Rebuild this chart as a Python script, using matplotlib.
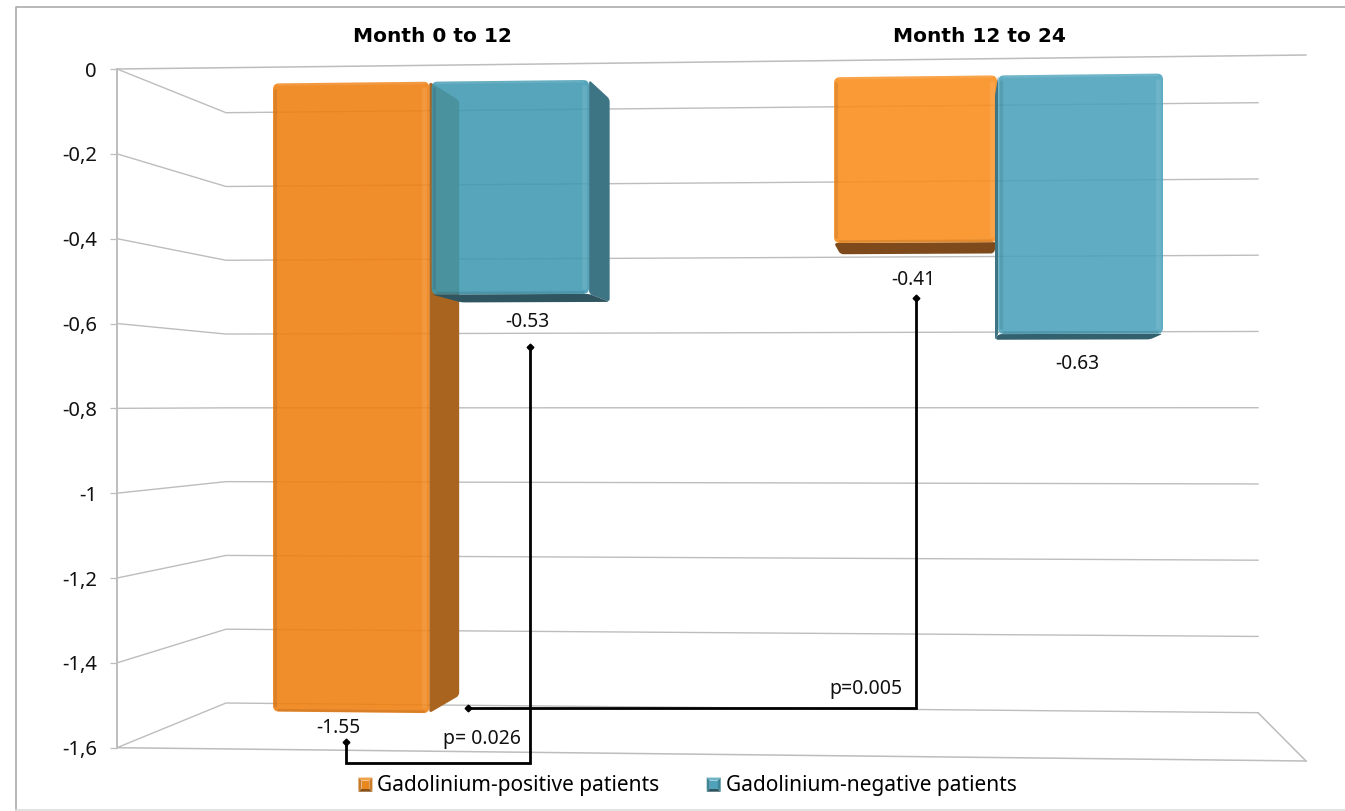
import matplotlib
matplotlib.use("Agg")
import numpy as np
import matplotlib.pyplot as plt
from matplotlib.patches import Polygon, Patch, PathPatch
from matplotlib.path import Path
from matplotlib.ticker import FuncFormatter

# values shown on the chart
groups = ["Month 0 to 12", "Month 12 to 24"]
series = ["Gadolinium-positive patients", "Gadolinium-negative patients"]
positive = [-1.55, -0.41]
negative = [-0.53, -0.63]
y_ticks = [0, -0.2, -0.4, -0.6, -0.8, -1, -1.2, -1.4, -1.6]
p_values = ["p= 0.026", "p=0.005"]

W, H = 1345, 811
GRID = "#BDBDBD"
FONT = ["Noto Sans", "DejaVu Sans"]

# pixel geometry of the 3D box
Y0, PX_PER_UNIT = 69.0, (747.7 - 69.0) / 1.6
DEPTH_FRONT, DEPTH_BACK = 0.36, 0.78
ALPHA_FRONT = 0.88


def to_axis(py):
    # pixel row -> value on the front-left axis
    return -(py - Y0) / PX_PER_UNIT


def project(t, v, d, lift=0.0):
    # t along the floor, v the value, d depth (0 front, 1 back); returns axes coords
    u = -v / 1.6
    x_f = 117 + 1189 * t
    x_b = 226 + 1032 * t
    y_f = (69 - 14 * t) * (1 - u) + (747.7 + 13.3 * t) * u
    y_b = (112.7 - 10 * t) * (1 - u) + (703 + 9.7 * t) * u
    return x_f + (x_b - x_f) * d, to_axis(y_f + (y_b - y_f) * d - lift)


def rounded(pts, r):
    # closed path through pts with the corners cut by quadratic curves, r in pixels
    p = np.array([(x, -y * PX_PER_UNIT) for x, y in pts])
    verts, codes = [], []
    n = len(p)
    for i in range(n):
        prev_pt, cur, next_pt = p[i - 1], p[i], p[(i + 1) % n]
        d1 = prev_pt - cur
        d2 = next_pt - cur
        r1 = min(r, np.linalg.norm(d1) / 2)
        r2 = min(r, np.linalg.norm(d2) / 2)
        a = cur + d1 / max(np.linalg.norm(d1), 1e-6) * r1
        b = cur + d2 / max(np.linalg.norm(d2), 1e-6) * r2
        verts.append(a)
        codes.append(Path.MOVETO if i == 0 else Path.LINETO)
        verts += [cur, b]
        codes += [Path.CURVE3, Path.CURVE3]
    verts.append(verts[0])
    codes.append(Path.CLOSEPOLY)
    verts = np.array(verts)
    verts[:, 1] = -verts[:, 1] / PX_PER_UNIT
    return Path(verts, codes)


def draw_face(ax, pts, color, zorder, r=3.0, alpha=None):
    ax.add_patch(PathPatch(rounded(pts, r), fc=color, ec="none", alpha=alpha, zorder=zorder))


def draw_bar(ax, t0, t1, value, front, zorder, side=None, bottom=None, left_side=None):
    f, b = DEPTH_FRONT, DEPTH_BACK
    # the rounded lower edge sits a little inside the nominal box
    lf = 4.7 + 2.4 * value
    lb = lf / 2
    if side is not None:
        draw_face(ax, [project(t1, 0, f), project(t1, 0, b), project(t1, value, b, lb), project(t1, value, f, lf)],
                  side, zorder)
    if left_side is not None:
        draw_face(ax, [project(t0, 0, f), project(t0, 0, b), project(t0, value, b, lb), project(t0, value, f, lf)],
                  left_side, zorder, r=1.5)
    if bottom is not None:
        draw_face(ax, [project(t0, value, f, lf), project(t1, value, f, lf), project(t1, value, b, lb),
                       project(t0, value, b, lb)], bottom, zorder)
    corners = [project(t0, 0, f), project(t1, 0, f), project(t1, value, f, lf), project(t0, value, f, lf)]
    draw_face(ax, corners, front, zorder + 0.1, r=6.0, alpha=ALPHA_FRONT)

    # bevel: light right and top edges, dark left and bottom edges
    inset = 0.0045
    zb = zorder + 0.2
    for (ta, tb, va, vb, col, al, lw) in [
        (t1 - inset, t1 - inset, 0, value, "white", 0.09, 3.4),
        (t0 + 0.002, t0 + 0.002, 0, value, "black", 0.09, 2.2),
    ]:
        p, q = project(ta, va, f, 0 if va == 0 else lf), project(tb, vb, f, 0 if vb == 0 else lf)
        ax.plot([p[0], q[0]], [p[1] - 0.012, q[1] + 0.012], color=col, alpha=al, lw=lw, zorder=zb,
                solid_capstyle="butt")
    p, q = project(t0 + 0.004, 0, f, -1.2), project(t1 - 0.004, 0, f, -1.2)
    ax.plot([p[0], q[0]], [p[1], q[1]], color="white", alpha=0.10, lw=1.8, zorder=zb, solid_capstyle="butt")
    p, q = project(t0 + 0.004, value, f, lf + 1.5), project(t1 - 0.004, value, f, lf + 1.5)
    ax.plot([p[0], q[0]], [p[1], q[1]], color="black", alpha=0.10, lw=1.8, zorder=zb, solid_capstyle="butt")


def connector(ax, pts):
    xs = [p[0] for p in pts]
    ys = [to_axis(p[1]) for p in pts]
    ax.plot(xs, ys, color="black", lw=2.0, zorder=8, solid_joinstyle="miter")
    ax.plot([xs[0], xs[-1]], [ys[0], ys[-1]], ls="", marker="D", ms=3.4, color="black", zorder=8)


class BevelSquare:
    # legend key drawn as a small bevelled tile
    def __init__(self, mid, top, side, low):
        self.mid, self.top, self.side, self.low = mid, top, side, low

    def legend_artist(self, legend, orig_handle, fontsize, handlebox):
        x0, y0 = handlebox.xdescent, handlebox.ydescent
        w, h = handlebox.width, handlebox.height
        i = w * 0.22
        tr = handlebox.get_transform()
        faces = [
            ([(x0, y0 + h), (x0 + w, y0 + h), (x0 + w - i, y0 + h - i), (x0 + i, y0 + h - i)], self.top),
            ([(x0, y0), (x0 + w, y0), (x0 + w - i, y0 + i), (x0 + i, y0 + i)], self.low),
            ([(x0, y0), (x0, y0 + h), (x0 + i, y0 + h - i), (x0 + i, y0 + i)], self.side),
            ([(x0 + w, y0), (x0 + w, y0 + h), (x0 + w - i, y0 + h - i), (x0 + w - i, y0 + i)], self.side),
            ([(x0 + i, y0 + i), (x0 + w - i, y0 + i), (x0 + w - i, y0 + h - i), (x0 + i, y0 + h - i)], self.mid),
        ]
        out = None
        for pts, col in faces:
            out = Polygon(pts, closed=True, fc=col, ec="none", transform=tr)
            handlebox.add_artist(out)
        return out


plt.rcParams["font.family"] = FONT
fig = plt.figure(figsize=(W / 100, H / 100), dpi=100)
ax = fig.add_axes([0, 0, 1, 1])
ax.set_xlim(0, W)
ax.set_ylim(to_axis(H), to_axis(0))
ax.patch.set_alpha(0)

for s in ["top", "bottom", "right"]:
    ax.spines[s].set_visible(False)
ax.spines["left"].set_position(("data", 117))
ax.spines["left"].set_bounds(-1.6, 0)
ax.spines["left"].set_color(GRID)
ax.spines["left"].set_linewidth(1.4)
ax.xaxis.set_visible(False)
ax.set_yticks(y_ticks)
ax.yaxis.set_major_formatter(FuncFormatter(lambda v, _: f"{v:g}".replace(".", ",")))
ax.tick_params(axis="y", length=5, width=0.9, color=GRID, labelsize=14.5, pad=9.4, labelcolor="#111111")

# outer frame of the chart area
ax.plot([16, 16, W], [to_axis(H), to_axis(7), to_axis(7)], color="#ABABAB", lw=1.2, zorder=0)
ax.plot([16, W], [to_axis(810), to_axis(810)], color="#DDDDDD", lw=1.2, zorder=0)

# walls and floor
for v in y_ticks:
    p_left = project(0, v, 0)
    p_back_l = project(0, v, 1)
    p_back_r = project(1, v, 1)
    ax.plot([p_left[0], p_back_l[0], p_back_r[0]], [p_left[1], p_back_l[1], p_back_r[1]],
            color=GRID, lw=1.0, zorder=1)
for v in [0, -1.6]:
    a = project(0, v, 0)
    c = project(1, v, 0)
    ax.plot([a[0], c[0]], [a[1], c[1]], color=GRID, lw=1.1, zorder=1)
a = project(1, -1.6, 1)
c = project(1, -1.6, 0)
ax.plot([a[0], c[0]], [a[1], c[1]], color=GRID, lw=1.1, zorder=1)

# bars
draw_bar(ax, 0.1031, 0.2411, positive[0], "#F07E0E", 2, side="#A9651F")
draw_bar(ax, 0.2432, 0.3822, negative[0], "#3E99B2", 3, side="#3E7585", bottom="#2E5560")
draw_bar(ax, 0.5985, 0.7424, positive[1], "#FA8C1A", 2, bottom="#7E4A1B")
draw_bar(ax, 0.7435, 0.8890, negative[1], "#4AA2BB", 3, bottom="#32606D", left_side="#3E7585")

# value labels below the bars
label_pos = [(338, 728), (527, 322), (913, 280), (1077, 364)]
label_vals = [positive[0], negative[0], positive[1], negative[1]]
for (x, y), v in zip(label_pos, label_vals):
    ax.text(x, to_axis(y), f"{v:.2f}", ha="center", va="center", fontsize=13.8, color="#111111", zorder=9)

# group headers
ax.text(432, to_axis(36), groups[0], ha="center", va="center", fontsize=14.5, fontweight="bold",
        family="DejaVu Sans")
ax.text(979, to_axis(36), groups[1], ha="center", va="center", fontsize=14.5, fontweight="bold",
        family="DejaVu Sans")

# significance brackets
connector(ax, [(346, 742), (346, 763), (530, 763), (530, 347)])
connector(ax, [(468, 708), (916, 708), (916, 298)])
ax.text(482, to_axis(739), p_values[0], ha="center", va="center", fontsize=14, color="#111111", zorder=9)
ax.text(866, to_axis(689), p_values[1], ha="center", va="center", fontsize=14, color="#111111", zorder=9)

handles = [Patch(label=series[0]), Patch(label=series[1])]
hmap = {
    handles[0]: BevelSquare("#E8871E", "#EFA24B", "#C87A28", "#8A5218"),
    handles[1]: BevelSquare("#4FA2B9", "#6FB5C8", "#3E8597", "#2E5560"),
}
ax.legend(handles=handles, handler_map=hmap, ncol=2, frameon=False, loc="center",
          bbox_to_anchor=(687.5 / W, 1 - 786 / H), fontsize=15, handlelength=0.67, handleheight=0.67,
          handletextpad=0.24, columnspacing=2.26)

fig.savefig("out.png", dpi=100)
